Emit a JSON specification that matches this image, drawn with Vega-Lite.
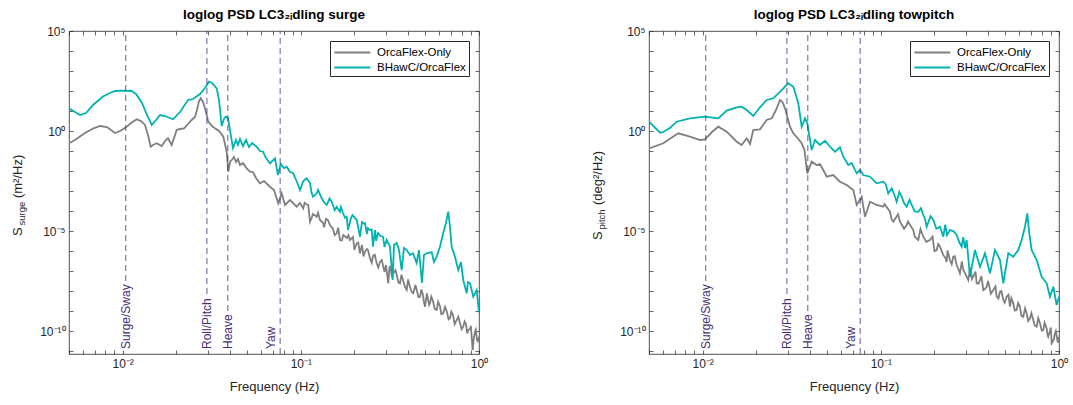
{
  "$schema": "https://vega.github.io/schema/vega-lite/v6.json",
  "background": "white",
  "padding": {"left": 11, "top": 7, "right": 5, "bottom": 5},
  "spacing": 102,
  "resolve": {"scale": {"color": "independent"}, "legend": {"color": "independent"}},
  "datasets": {
    "modes": [
      {"mode": "Surge/Sway", "f": 0.0104, "yEnd": 3.2e-8},
      {"mode": "Roll/Pitch", "f": 0.0297, "yEnd": 7.1e-9},
      {"mode": "Heave", "f": 0.0389, "yEnd": 1e-9},
      {"mode": "Yaw", "f": 0.0766, "yEnd": 7.1e-12}
    ],
    "surge": [
      {"f":0.005,"S":0.243,"s":"OrcaFlex-Only"},{"f":0.0054,"S":0.355,"s":"OrcaFlex-Only"},{"f":0.00615,"S":0.794,"s":"OrcaFlex-Only"},{"f":0.00682,"S":1.33,"s":"OrcaFlex-Only"},{"f":0.00746,"S":1.78,"s":"OrcaFlex-Only"},{"f":0.00817,"S":1.58,"s":"OrcaFlex-Only"},{"f":0.00906,"S":0.794,"s":"OrcaFlex-Only"},{"f":0.009665,"S":1.0,"s":"OrcaFlex-Only"},{"f":0.01044,"S":1.53,"s":"OrcaFlex-Only"},{"f":0.01114,"S":2.51,"s":"OrcaFlex-Only"},{"f":0.01199,"S":3.85,"s":"OrcaFlex-Only"},{"f":0.01268,"S":3.16,"s":"OrcaFlex-Only"},{"f":0.01335,"S":2.0,"s":"OrcaFlex-Only"},{"f":0.01388,"S":0.631,"s":"OrcaFlex-Only"},{"f":0.01437,"S":0.164,"s":"OrcaFlex-Only"},{"f":0.01481,"S":0.2,"s":"OrcaFlex-Only"},{"f":0.01553,"S":0.243,"s":"OrcaFlex-Only"},{"f":0.01657,"S":0.178,"s":"OrcaFlex-Only"},{"f":0.01729,"S":0.316,"s":"OrcaFlex-Only"},{"f":0.01797,"S":0.432,"s":"OrcaFlex-Only"},{"f":0.01885,"S":0.2,"s":"OrcaFlex-Only"},{"f":0.01942,"S":0.447,"s":"OrcaFlex-Only"},{"f":0.02011,"S":1.12,"s":"OrcaFlex-Only"},{"f":0.02099,"S":1.26,"s":"OrcaFlex-Only"},{"f":0.0221,"S":1.36,"s":"OrcaFlex-Only"},{"f":0.02327,"S":2.24,"s":"OrcaFlex-Only"},{"f":0.02441,"S":3.55,"s":"OrcaFlex-Only"},{"f":0.02547,"S":5.01,"s":"OrcaFlex-Only"},{"f":0.02614,"S":11.2,"s":"OrcaFlex-Only"},{"f":0.02683,"S":31.6,"s":"OrcaFlex-Only"},{"f":0.02743,"S":43.2,"s":"OrcaFlex-Only"},{"f":0.02825,"S":28.2,"s":"OrcaFlex-Only"},{"f":0.02899,"S":13.6,"s":"OrcaFlex-Only"},{"f":0.03024,"S":2.92,"s":"OrcaFlex-Only"},{"f":0.03173,"S":1.78,"s":"OrcaFlex-Only"},{"f":0.03298,"S":1.36,"s":"OrcaFlex-Only"},{"f":0.03474,"S":1.0,"s":"OrcaFlex-Only"},{"f":0.03673,"S":0.519,"s":"OrcaFlex-Only"},{"f":0.03837,"S":0.0923,"s":"OrcaFlex-Only"},{"f":0.03916,"S":0.00923,"s":"OrcaFlex-Only"},{"f":0.04004,"S":0.0282,"s":"OrcaFlex-Only"},{"f":0.04093,"S":0.0355,"s":"OrcaFlex-Only"},{"f":0.04216,"S":0.0501,"s":"OrcaFlex-Only"},{"f":0.04327,"S":0.0282,"s":"OrcaFlex-Only"},{"f":0.0444,"S":0.0398,"s":"OrcaFlex-Only"},{"f":0.04556,"S":0.02,"s":"OrcaFlex-Only"},{"f":0.04736,"S":0.0251,"s":"OrcaFlex-Only"},{"f":0.04968,"S":0.0136,"s":"OrcaFlex-Only"},{"f":0.05184,"S":0.00923,"s":"OrcaFlex-Only"},{"f":0.0539,"S":0.00891,"s":"OrcaFlex-Only"},{"f":0.05603,"S":0.00447,"s":"OrcaFlex-Only"},{"f":0.05898,"S":0.00243,"s":"OrcaFlex-Only"},{"f":0.06213,"S":0.00316,"s":"OrcaFlex-Only"},{"f":0.06714,"S":0.00164,"s":"OrcaFlex-Only"},{"f":0.0707,"S":0.00112,"s":"OrcaFlex-Only"},{"f":0.07471,"S":0.000243,"s":"OrcaFlex-Only"},{"f":0.07808,"S":0.000767,"s":"OrcaFlex-Only"},{"f":0.08149,"S":0.0002,"s":"OrcaFlex-Only"},{"f":0.08694,"S":0.000355,"s":"OrcaFlex-Only"},{"f":0.0948,"S":0.000164,"s":"OrcaFlex-Only"},{"f":0.09892,"S":0.000251,"s":"OrcaFlex-Only"},{"f":0.1032,"S":0.000136,"s":"OrcaFlex-Only"},{"f":0.1069,"S":0.000224,"s":"OrcaFlex-Only"},{"f":0.1101,"S":0.0002,"s":"OrcaFlex-Only"},{"f":0.1126,"S":2.92e-5,"s":"OrcaFlex-Only"},{"f":0.117,"S":7.08e-5,"s":"OrcaFlex-Only"},{"f":0.1227,"S":5.19e-5,"s":"OrcaFlex-Only"},{"f":0.1281,"S":3.55e-5,"s":"OrcaFlex-Only"},{"f":0.1337,"S":2.43e-5,"s":"OrcaFlex-Only"},{"f":0.1384,"S":3.98e-5,"s":"OrcaFlex-Only"},{"f":0.1458,"S":2.0e-5,"s":"OrcaFlex-Only"},{"f":0.1515,"S":1.26e-5,"s":"OrcaFlex-Only"},{"f":0.1589,"S":7.67e-6,"s":"OrcaFlex-Only"},{"f":0.1659,"S":3.55e-6,"s":"OrcaFlex-Only"},{"f":0.1731,"S":6.31e-6,"s":"OrcaFlex-Only"},{"f":0.1816,"S":4.47e-6,"s":"OrcaFlex-Only"},{"f":0.1887,"S":3.55e-6,"s":"OrcaFlex-Only"},{"f":0.1962,"S":5.01e-6,"s":"OrcaFlex-Only"},{"f":0.2058,"S":2.43e-6,"s":"OrcaFlex-Only"},{"f":0.2148,"S":7.67e-7,"s":"OrcaFlex-Only"},{"f":0.2204,"S":2.0e-6,"s":"OrcaFlex-Only"},{"f":0.2291,"S":9.23e-7,"s":"OrcaFlex-Only"},{"f":0.2382,"S":1.12e-6,"s":"OrcaFlex-Only"},{"f":0.2444,"S":4.32e-7,"s":"OrcaFlex-Only"},{"f":0.2541,"S":5.62e-7,"s":"OrcaFlex-Only"},{"f":0.2665,"S":2.43e-7,"s":"OrcaFlex-Only"},{"f":0.2781,"S":2.82e-7,"s":"OrcaFlex-Only"},{"f":0.2902,"S":1.64e-7,"s":"OrcaFlex-Only"},{"f":0.3005,"S":2.0e-7,"s":"OrcaFlex-Only"},{"f":0.3096,"S":2.43e-8,"s":"OrcaFlex-Only"},{"f":0.3206,"S":1.12e-7,"s":"OrcaFlex-Only"},{"f":0.3303,"S":7.67e-8,"s":"OrcaFlex-Only"},{"f":0.3464,"S":5.62e-8,"s":"OrcaFlex-Only"},{"f":0.3602,"S":2.43e-8,"s":"OrcaFlex-Only"},{"f":0.3744,"S":3.55e-8,"s":"OrcaFlex-Only"},{"f":0.3928,"S":1.12e-8,"s":"OrcaFlex-Only"},{"f":0.4098,"S":1.58e-8,"s":"OrcaFlex-Only"},{"f":0.4277,"S":7.67e-9,"s":"OrcaFlex-Only"},{"f":0.4487,"S":1.0e-8,"s":"OrcaFlex-Only"},{"f":0.4664,"S":5.19e-9,"s":"OrcaFlex-Only"},{"f":0.4848,"S":6.31e-9,"s":"OrcaFlex-Only"},{"f":0.4976,"S":1.64e-9,"s":"OrcaFlex-Only"},{"f":0.5171,"S":3.98e-9,"s":"OrcaFlex-Only"},{"f":0.5306,"S":2.43e-9,"s":"OrcaFlex-Only"},{"f":0.5516,"S":3.16e-9,"s":"OrcaFlex-Only"},{"f":0.5785,"S":1.12e-9,"s":"OrcaFlex-Only"},{"f":0.6037,"S":1.78e-9,"s":"OrcaFlex-Only"},{"f":0.6301,"S":7.67e-10,"s":"OrcaFlex-Only"},{"f":0.6609,"S":8.91e-10,"s":"OrcaFlex-Only"},{"f":0.6872,"S":4.32e-10,"s":"OrcaFlex-Only"},{"f":0.7144,"S":6.31e-10,"s":"OrcaFlex-Only"},{"f":0.7492,"S":3.55e-10,"s":"OrcaFlex-Only"},{"f":0.782,"S":2.51e-10,"s":"OrcaFlex-Only"},{"f":0.816,"S":1.64e-10,"s":"OrcaFlex-Only"},{"f":0.8449,"S":2.24e-10,"s":"OrcaFlex-Only"},{"f":0.8704,"S":1.12e-10,"s":"OrcaFlex-Only"},{"f":0.8899,"S":1.26e-10,"s":"OrcaFlex-Only"},{"f":0.9213,"S":1.12e-11,"s":"OrcaFlex-Only"},{"f":0.949,"S":9.23e-11,"s":"OrcaFlex-Only"},{"f":0.9739,"S":3.55e-11,"s":"OrcaFlex-Only"},{"f":1.0,"S":5.19e-11,"s":"OrcaFlex-Only"},
      {"f":0.105,"S":2.57e-4,"s":"OrcaFlex-Only"},{"f":0.115,"S":4.47e-5,"s":"OrcaFlex-Only"},{"f":0.125,"S":8.1e-5,"s":"OrcaFlex-Only"},{"f":0.135,"S":1.55e-5,"s":"OrcaFlex-Only"},{"f":0.142,"S":3.47e-5,"s":"OrcaFlex-Only"},{"f":0.155,"S":6.2e-6,"s":"OrcaFlex-Only"},{"f":0.162,"S":1.48e-5,"s":"OrcaFlex-Only"},{"f":0.17,"S":3.4e-6,"s":"OrcaFlex-Only"},{"f":0.185,"S":6.2e-6,"s":"OrcaFlex-Only"},{"f":0.2,"S":1.15e-6,"s":"OrcaFlex-Only"},{"f":0.21,"S":2.63e-6,"s":"OrcaFlex-Only"},{"f":0.225,"S":5.4e-7,"s":"OrcaFlex-Only"},{"f":0.235,"S":1.26e-6,"s":"OrcaFlex-Only"},{"f":0.25,"S":2.6e-7,"s":"OrcaFlex-Only"},{"f":0.26,"S":6.5e-7,"s":"OrcaFlex-Only"},{"f":0.272,"S":1.5e-7,"s":"OrcaFlex-Only"},{"f":0.285,"S":3.5e-7,"s":"OrcaFlex-Only"},{"f":0.295,"S":8.9e-8,"s":"OrcaFlex-Only"},{"f":0.315,"S":1.8e-7,"s":"OrcaFlex-Only"},{"f":0.325,"S":4.7e-8,"s":"OrcaFlex-Only"},{"f":0.34,"S":1.1e-7,"s":"OrcaFlex-Only"},{"f":0.353,"S":2.7e-8,"s":"OrcaFlex-Only"},{"f":0.367,"S":6.6e-8,"s":"OrcaFlex-Only"},{"f":0.385,"S":1.55e-8,"s":"OrcaFlex-Only"},{"f":0.4,"S":3.8e-8,"s":"OrcaFlex-Only"},{"f":0.42,"S":8.7e-9,"s":"OrcaFlex-Only"},{"f":0.44,"S":2.0e-8,"s":"OrcaFlex-Only"},{"f":0.457,"S":4.9e-9,"s":"OrcaFlex-Only"},{"f":0.475,"S":1.2e-8,"s":"OrcaFlex-Only"},{"f":0.49,"S":3.1e-9,"s":"OrcaFlex-Only"},{"f":0.51,"S":7.6e-9,"s":"OrcaFlex-Only"},{"f":0.525,"S":2.0e-9,"s":"OrcaFlex-Only"},{"f":0.54,"S":5.2e-9,"s":"OrcaFlex-Only"},{"f":0.565,"S":1.23e-9,"s":"OrcaFlex-Only"},{"f":0.59,"S":2.9e-9,"s":"OrcaFlex-Only"},{"f":0.615,"S":6.9e-10,"s":"OrcaFlex-Only"},{"f":0.645,"S":1.6e-9,"s":"OrcaFlex-Only"},{"f":0.675,"S":3.8e-10,"s":"OrcaFlex-Only"},{"f":0.7,"S":9.3e-10,"s":"OrcaFlex-Only"},{"f":0.73,"S":2.2e-10,"s":"OrcaFlex-Only"},{"f":0.765,"S":5.2e-10,"s":"OrcaFlex-Only"},{"f":0.8,"S":1.23e-10,"s":"OrcaFlex-Only"},{"f":0.83,"S":3.0e-10,"s":"OrcaFlex-Only"},{"f":0.86,"S":7.6e-11,"s":"OrcaFlex-Only"},{"f":0.9,"S":1.8e-10,"s":"OrcaFlex-Only"},{"f":0.935,"S":4.4e-11,"s":"OrcaFlex-Only"},{"f":0.96,"S":1.17e-10,"s":"OrcaFlex-Only"},{"f":0.985,"S":3.1e-11,"s":"OrcaFlex-Only"},
      {"f":0.005,"S":13.6,"s":"BHawC/OrcaFlex"},{"f":0.0054,"S":8.91,"s":"BHawC/OrcaFlex"},{"f":0.00577,"S":6.31,"s":"BHawC/OrcaFlex"},{"f":0.00623,"S":7.94,"s":"BHawC/OrcaFlex"},{"f":0.00682,"S":20.0,"s":"BHawC/OrcaFlex"},{"f":0.00776,"S":53.1,"s":"BHawC/OrcaFlex"},{"f":0.00849,"S":79.4,"s":"BHawC/OrcaFlex"},{"f":0.00906,"S":100,"s":"BHawC/OrcaFlex"},{"f":0.00992,"S":103.5,"s":"BHawC/OrcaFlex"},{"f":0.01124,"S":100,"s":"BHawC/OrcaFlex"},{"f":0.01189,"S":70.8,"s":"BHawC/OrcaFlex"},{"f":0.01284,"S":25.1,"s":"BHawC/OrcaFlex"},{"f":0.0137,"S":6.31,"s":"BHawC/OrcaFlex"},{"f":0.01456,"S":2.0,"s":"BHawC/OrcaFlex"},{"f":0.01539,"S":3.55,"s":"BHawC/OrcaFlex"},{"f":0.01621,"S":6.31,"s":"BHawC/OrcaFlex"},{"f":0.01729,"S":5.62,"s":"BHawC/OrcaFlex"},{"f":0.01917,"S":3.85,"s":"BHawC/OrcaFlex"},{"f":0.02099,"S":8.91,"s":"BHawC/OrcaFlex"},{"f":0.02327,"S":35.5,"s":"BHawC/OrcaFlex"},{"f":0.02483,"S":39.8,"s":"BHawC/OrcaFlex"},{"f":0.02718,"S":70.8,"s":"BHawC/OrcaFlex"},{"f":0.02899,"S":141,"s":"BHawC/OrcaFlex"},{"f":0.03052,"S":292,"s":"BHawC/OrcaFlex"},{"f":0.03173,"S":251,"s":"BHawC/OrcaFlex"},{"f":0.03372,"S":136,"s":"BHawC/OrcaFlex"},{"f":0.03474,"S":35.5,"s":"BHawC/OrcaFlex"},{"f":0.03597,"S":1.78,"s":"BHawC/OrcaFlex"},{"f":0.03706,"S":3.98,"s":"BHawC/OrcaFlex"},{"f":0.03788,"S":5.19,"s":"BHawC/OrcaFlex"},{"f":0.03902,"S":4.47,"s":"BHawC/OrcaFlex"},{"f":0.04004,"S":1.12,"s":"BHawC/OrcaFlex"},{"f":0.04162,"S":0.141,"s":"BHawC/OrcaFlex"},{"f":0.04327,"S":0.355,"s":"BHawC/OrcaFlex"},{"f":0.0444,"S":0.2,"s":"BHawC/OrcaFlex"},{"f":0.04556,"S":0.398,"s":"BHawC/OrcaFlex"},{"f":0.04736,"S":0.178,"s":"BHawC/OrcaFlex"},{"f":0.04924,"S":0.355,"s":"BHawC/OrcaFlex"},{"f":0.05118,"S":0.158,"s":"BHawC/OrcaFlex"},{"f":0.0532,"S":0.251,"s":"BHawC/OrcaFlex"},{"f":0.05652,"S":0.164,"s":"BHawC/OrcaFlex"},{"f":0.05898,"S":0.1,"s":"BHawC/OrcaFlex"},{"f":0.06132,"S":0.0923,"s":"BHawC/OrcaFlex"},{"f":0.06374,"S":0.0447,"s":"BHawC/OrcaFlex"},{"f":0.06714,"S":0.0243,"s":"BHawC/OrcaFlex"},{"f":0.07161,"S":0.0432,"s":"BHawC/OrcaFlex"},{"f":0.07442,"S":0.00631,"s":"BHawC/OrcaFlex"},{"f":0.07709,"S":0.0224,"s":"BHawC/OrcaFlex"},{"f":0.08044,"S":0.0141,"s":"BHawC/OrcaFlex"},{"f":0.08331,"S":0.0164,"s":"BHawC/OrcaFlex"},{"f":0.08694,"S":0.00891,"s":"BHawC/OrcaFlex"},{"f":0.09036,"S":0.00794,"s":"BHawC/OrcaFlex"},{"f":0.09517,"S":0.00282,"s":"BHawC/OrcaFlex"},{"f":0.09892,"S":0.00112,"s":"BHawC/OrcaFlex"},{"f":0.1028,"S":0.00292,"s":"BHawC/OrcaFlex"},{"f":0.1079,"S":0.00432,"s":"BHawC/OrcaFlex"},{"f":0.1126,"S":0.00251,"s":"BHawC/OrcaFlex"},{"f":0.117,"S":0.000519,"s":"BHawC/OrcaFlex"},{"f":0.1227,"S":0.000767,"s":"BHawC/OrcaFlex"},{"f":0.1309,"S":0.000432,"s":"BHawC/OrcaFlex"},{"f":0.1397,"S":0.0002,"s":"BHawC/OrcaFlex"},{"f":0.149,"S":0.000292,"s":"BHawC/OrcaFlex"},{"f":0.1589,"S":0.000164,"s":"BHawC/OrcaFlex"},{"f":0.1659,"S":9.23e-5,"s":"BHawC/OrcaFlex"},{"f":0.1724,"S":7.94e-5,"s":"BHawC/OrcaFlex"},{"f":0.1809,"S":5.19e-5,"s":"BHawC/OrcaFlex"},{"f":0.184,"S":1.12e-5,"s":"BHawC/OrcaFlex"},{"f":0.1912,"S":4.47e-5,"s":"BHawC/OrcaFlex"},{"f":0.2058,"S":3.55e-5,"s":"BHawC/OrcaFlex"},{"f":0.2148,"S":5.19e-6,"s":"BHawC/OrcaFlex"},{"f":0.2204,"S":2.82e-5,"s":"BHawC/OrcaFlex"},{"f":0.2291,"S":2.51e-5,"s":"BHawC/OrcaFlex"},{"f":0.2382,"S":1.41e-5,"s":"BHawC/OrcaFlex"},{"f":0.2444,"S":1.12e-5,"s":"BHawC/OrcaFlex"},{"f":0.2541,"S":1.64e-6,"s":"BHawC/OrcaFlex"},{"f":0.2608,"S":1.12e-5,"s":"BHawC/OrcaFlex"},{"f":0.271,"S":7.94e-6,"s":"BHawC/OrcaFlex"},{"f":0.2891,"S":5.19e-6,"s":"BHawC/OrcaFlex"},{"f":0.3032,"S":3.55e-6,"s":"BHawC/OrcaFlex"},{"f":0.3165,"S":1.64e-6,"s":"BHawC/OrcaFlex"},{"f":0.3277,"S":3.55e-8,"s":"BHawC/OrcaFlex"},{"f":0.3333,"S":2.0e-6,"s":"BHawC/OrcaFlex"},{"f":0.3451,"S":2.51e-6,"s":"BHawC/OrcaFlex"},{"f":0.3556,"S":1.12e-6,"s":"BHawC/OrcaFlex"},{"f":0.3681,"S":1.12e-7,"s":"BHawC/OrcaFlex"},{"f":0.3793,"S":1.41e-6,"s":"BHawC/OrcaFlex"},{"f":0.3928,"S":1.12e-6,"s":"BHawC/OrcaFlex"},{"f":0.4098,"S":6.31e-7,"s":"BHawC/OrcaFlex"},{"f":0.426,"S":7.67e-7,"s":"BHawC/OrcaFlex"},{"f":0.4469,"S":2.51e-7,"s":"BHawC/OrcaFlex"},{"f":0.4604,"S":1.12e-6,"s":"BHawC/OrcaFlex"},{"f":0.4786,"S":2.51e-8,"s":"BHawC/OrcaFlex"},{"f":0.4912,"S":6.31e-7,"s":"BHawC/OrcaFlex"},{"f":0.5085,"S":7.67e-7,"s":"BHawC/OrcaFlex"},{"f":0.5423,"S":8.91e-7,"s":"BHawC/OrcaFlex"},{"f":0.5588,"S":2.82e-7,"s":"BHawC/OrcaFlex"},{"f":0.5785,"S":5.19e-7,"s":"BHawC/OrcaFlex"},{"f":0.6037,"S":1.64e-6,"s":"BHawC/OrcaFlex"},{"f":0.6301,"S":7.94e-6,"s":"BHawC/OrcaFlex"},{"f":0.6525,"S":2.51e-5,"s":"BHawC/OrcaFlex"},{"f":0.6722,"S":9.23e-5,"s":"BHawC/OrcaFlex"},{"f":0.6872,"S":1.64e-5,"s":"BHawC/OrcaFlex"},{"f":0.7024,"S":1.64e-6,"s":"BHawC/OrcaFlex"},{"f":0.733,"S":5.19e-7,"s":"BHawC/OrcaFlex"},{"f":0.7648,"S":1.12e-7,"s":"BHawC/OrcaFlex"},{"f":0.7921,"S":2.82e-7,"s":"BHawC/OrcaFlex"},{"f":0.816,"S":3.55e-8,"s":"BHawC/OrcaFlex"},{"f":0.8527,"S":7.67e-9,"s":"BHawC/OrcaFlex"},{"f":0.8672,"S":2.82e-8,"s":"BHawC/OrcaFlex"},{"f":0.8899,"S":2.51e-8,"s":"BHawC/OrcaFlex"},{"f":0.9285,"S":5.19e-9,"s":"BHawC/OrcaFlex"},{"f":0.9703,"S":1.12e-8,"s":"BHawC/OrcaFlex"},{"f":1.0,"S":8.61e-10,"s":"BHawC/OrcaFlex"},
      {"f":0.105,"S":3.6e-3,"s":"BHawC/OrcaFlex"},{"f":0.115,"S":7.9e-4,"s":"BHawC/OrcaFlex"},{"f":0.125,"S":1.15e-3,"s":"BHawC/OrcaFlex"},{"f":0.135,"S":2.75e-4,"s":"BHawC/OrcaFlex"},{"f":0.145,"S":4.3e-4,"s":"BHawC/OrcaFlex"},{"f":0.155,"S":1.1e-4,"s":"BHawC/OrcaFlex"},{"f":0.168,"S":1.6e-4,"s":"BHawC/OrcaFlex"},{"f":0.177,"S":4.6e-5,"s":"BHawC/OrcaFlex"},{"f":0.195,"S":6.2e-5,"s":"BHawC/OrcaFlex"},{"f":0.21,"S":1.5e-5,"s":"BHawC/OrcaFlex"},{"f":0.225,"S":2.4e-5,"s":"BHawC/OrcaFlex"},{"f":0.235,"S":7.1e-6,"s":"BHawC/OrcaFlex"},{"f":0.25,"S":1.17e-5,"s":"BHawC/OrcaFlex"},{"f":0.265,"S":3.2e-6,"s":"BHawC/OrcaFlex"},{"f":0.28,"S":5.6e-6,"s":"BHawC/OrcaFlex"},{"f":0.295,"S":1.6e-6,"s":"BHawC/OrcaFlex"}
    ],
    "pitch": [
      {"f":0.005,"S":0.136,"s":"OrcaFlex-Only"},{"f":0.006015,"S":0.243,"s":"OrcaFlex-Only"},{"f":0.0073,"S":0.767,"s":"OrcaFlex-Only"},{"f":0.00849,"S":0.519,"s":"OrcaFlex-Only"},{"f":0.009665,"S":0.355,"s":"OrcaFlex-Only"},{"f":0.01031,"S":0.385,"s":"OrcaFlex-Only"},{"f":0.01128,"S":0.891,"s":"OrcaFlex-Only"},{"f":0.01224,"S":1.64,"s":"OrcaFlex-Only"},{"f":0.01365,"S":0.923,"s":"OrcaFlex-Only"},{"f":0.01553,"S":0.292,"s":"OrcaFlex-Only"},{"f":0.01657,"S":0.2,"s":"OrcaFlex-Only"},{"f":0.01767,"S":0.432,"s":"OrcaFlex-Only"},{"f":0.01845,"S":0.224,"s":"OrcaFlex-Only"},{"f":0.01924,"S":1.12,"s":"OrcaFlex-Only"},{"f":0.02099,"S":1.22,"s":"OrcaFlex-Only"},{"f":0.02288,"S":3.55,"s":"OrcaFlex-Only"},{"f":0.02441,"S":4.32,"s":"OrcaFlex-Only"},{"f":0.0258,"S":11.2,"s":"OrcaFlex-Only"},{"f":0.02718,"S":35.5,"s":"OrcaFlex-Only"},{"f":0.02807,"S":28.2,"s":"OrcaFlex-Only"},{"f":0.02899,"S":13.6,"s":"OrcaFlex-Only"},{"f":0.03092,"S":1.64,"s":"OrcaFlex-Only"},{"f":0.03227,"S":0.767,"s":"OrcaFlex-Only"},{"f":0.03406,"S":0.447,"s":"OrcaFlex-Only"},{"f":0.03597,"S":0.243,"s":"OrcaFlex-Only"},{"f":0.03729,"S":0.112,"s":"OrcaFlex-Only"},{"f":0.03866,"S":0.00767,"s":"OrcaFlex-Only"},{"f":0.04093,"S":0.0292,"s":"OrcaFlex-Only"},{"f":0.04366,"S":0.02,"s":"OrcaFlex-Only"},{"f":0.04556,"S":0.0224,"s":"OrcaFlex-Only"},{"f":0.04754,"S":0.0112,"s":"OrcaFlex-Only"},{"f":0.04968,"S":0.00519,"s":"OrcaFlex-Only"},{"f":0.0541,"S":0.00631,"s":"OrcaFlex-Only"},{"f":0.05898,"S":0.00292,"s":"OrcaFlex-Only"},{"f":0.06431,"S":0.002,"s":"OrcaFlex-Only"},{"f":0.07005,"S":0.00112,"s":"OrcaFlex-Only"},{"f":0.0732,"S":0.0002,"s":"OrcaFlex-Only"},{"f":0.07808,"S":0.000519,"s":"OrcaFlex-Only"},{"f":0.08149,"S":5.19e-5,"s":"OrcaFlex-Only"},{"f":0.08694,"S":0.000292,"s":"OrcaFlex-Only"},{"f":0.0948,"S":0.0002,"s":"OrcaFlex-Only"},{"f":0.1032,"S":0.000164,"s":"OrcaFlex-Only"},{"f":0.1126,"S":9.23e-5,"s":"OrcaFlex-Only"},{"f":0.1175,"S":2.92e-5,"s":"OrcaFlex-Only"},{"f":0.1281,"S":2.92e-5,"s":"OrcaFlex-Only"},{"f":0.1397,"S":2.0e-5,"s":"OrcaFlex-Only"},{"f":0.1521,"S":1.12e-5,"s":"OrcaFlex-Only"},{"f":0.1623,"S":3.55e-6,"s":"OrcaFlex-Only"},{"f":0.1731,"S":5.19e-6,"s":"OrcaFlex-Only"},{"f":0.1887,"S":3.55e-6,"s":"OrcaFlex-Only"},{"f":0.2058,"S":1.12e-6,"s":"OrcaFlex-Only"},{"f":0.2148,"S":1.64e-6,"s":"OrcaFlex-Only"},{"f":0.2241,"S":6.31e-7,"s":"OrcaFlex-Only"},{"f":0.2341,"S":2.82e-7,"s":"OrcaFlex-Only"},{"f":0.2444,"S":3.55e-7,"s":"OrcaFlex-Only"},{"f":0.255,"S":5.19e-7,"s":"OrcaFlex-Only"},{"f":0.2665,"S":2.0e-7,"s":"OrcaFlex-Only"},{"f":0.278,"S":7.67e-8,"s":"OrcaFlex-Only"},{"f":0.2902,"S":1.12e-7,"s":"OrcaFlex-Only"},{"f":0.3096,"S":3.55e-8,"s":"OrcaFlex-Only"},{"f":0.3303,"S":5.19e-8,"s":"OrcaFlex-Only"},{"f":0.345,"S":2.43e-8,"s":"OrcaFlex-Only"},{"f":0.3602,"S":3.55e-8,"s":"OrcaFlex-Only"},{"f":0.376,"S":1.12e-8,"s":"OrcaFlex-Only"},{"f":0.3928,"S":1.64e-8,"s":"OrcaFlex-Only"},{"f":0.4277,"S":1.12e-8,"s":"OrcaFlex-Only"},{"f":0.447,"S":5.19e-9,"s":"OrcaFlex-Only"},{"f":0.4664,"S":9.23e-9,"s":"OrcaFlex-Only"},{"f":0.487,"S":3.55e-9,"s":"OrcaFlex-Only"},{"f":0.5085,"S":5.19e-9,"s":"OrcaFlex-Only"},{"f":0.531,"S":1.64e-9,"s":"OrcaFlex-Only"},{"f":0.5537,"S":2.43e-9,"s":"OrcaFlex-Only"},{"f":0.578,"S":1.12e-9,"s":"OrcaFlex-Only"},{"f":0.6037,"S":1.64e-9,"s":"OrcaFlex-Only"},{"f":0.63,"S":5.19e-10,"s":"OrcaFlex-Only"},{"f":0.6584,"S":7.67e-10,"s":"OrcaFlex-Only"},{"f":0.687,"S":4.32e-10,"s":"OrcaFlex-Only"},{"f":0.7172,"S":3.55e-10,"s":"OrcaFlex-Only"},{"f":0.749,"S":1.64e-10,"s":"OrcaFlex-Only"},{"f":0.782,"S":2.43e-10,"s":"OrcaFlex-Only"},{"f":0.816,"S":1.12e-10,"s":"OrcaFlex-Only"},{"f":0.8527,"S":1.36e-10,"s":"OrcaFlex-Only"},{"f":0.87,"S":5.19e-11,"s":"OrcaFlex-Only"},{"f":0.8899,"S":1.0e-10,"s":"OrcaFlex-Only"},{"f":0.9095,"S":2.43e-11,"s":"OrcaFlex-Only"},{"f":0.949,"S":7.67e-11,"s":"OrcaFlex-Only"},{"f":1.0,"S":5.19e-11,"s":"OrcaFlex-Only"},
      {"f":0.105,"S":2.2e-4,"s":"OrcaFlex-Only"},{"f":0.115,"S":3.8e-5,"s":"OrcaFlex-Only"},{"f":0.125,"S":6.9e-5,"s":"OrcaFlex-Only"},{"f":0.135,"S":1.3e-5,"s":"OrcaFlex-Only"},{"f":0.142,"S":2.95e-5,"s":"OrcaFlex-Only"},{"f":0.155,"S":5.3e-6,"s":"OrcaFlex-Only"},{"f":0.167,"S":1.26e-5,"s":"OrcaFlex-Only"},{"f":0.18,"S":2.9e-6,"s":"OrcaFlex-Only"},{"f":0.195,"S":5.3e-6,"s":"OrcaFlex-Only"},{"f":0.2,"S":9.8e-7,"s":"OrcaFlex-Only"},{"f":0.21,"S":2.2e-6,"s":"OrcaFlex-Only"},{"f":0.23,"S":4.6e-7,"s":"OrcaFlex-Only"},{"f":0.237,"S":1.07e-6,"s":"OrcaFlex-Only"},{"f":0.25,"S":2.2e-7,"s":"OrcaFlex-Only"},{"f":0.26,"S":5.5e-7,"s":"OrcaFlex-Only"},{"f":0.272,"S":1.3e-7,"s":"OrcaFlex-Only"},{"f":0.285,"S":3.0e-7,"s":"OrcaFlex-Only"},{"f":0.297,"S":7.6e-8,"s":"OrcaFlex-Only"},{"f":0.318,"S":1.5e-7,"s":"OrcaFlex-Only"},{"f":0.325,"S":4.0e-8,"s":"OrcaFlex-Only"},{"f":0.34,"S":9.4e-8,"s":"OrcaFlex-Only"},{"f":0.353,"S":2.3e-8,"s":"OrcaFlex-Only"},{"f":0.367,"S":5.6e-8,"s":"OrcaFlex-Only"},{"f":0.385,"S":1.3e-8,"s":"OrcaFlex-Only"},{"f":0.4,"S":3.2e-8,"s":"OrcaFlex-Only"},{"f":0.415,"S":7.4e-9,"s":"OrcaFlex-Only"},{"f":0.44,"S":1.7e-8,"s":"OrcaFlex-Only"},{"f":0.457,"S":4.2e-9,"s":"OrcaFlex-Only"},{"f":0.475,"S":1.0e-8,"s":"OrcaFlex-Only"},{"f":0.495,"S":2.6e-9,"s":"OrcaFlex-Only"},{"f":0.52,"S":6.5e-9,"s":"OrcaFlex-Only"},{"f":0.54,"S":4.4e-9,"s":"OrcaFlex-Only"},{"f":0.565,"S":1.05e-9,"s":"OrcaFlex-Only"},{"f":0.59,"S":2.5e-9,"s":"OrcaFlex-Only"},{"f":0.615,"S":5.9e-10,"s":"OrcaFlex-Only"},{"f":0.645,"S":1.36e-9,"s":"OrcaFlex-Only"},{"f":0.672,"S":3.2e-10,"s":"OrcaFlex-Only"},{"f":0.7,"S":7.9e-10,"s":"OrcaFlex-Only"},{"f":0.73,"S":1.9e-10,"s":"OrcaFlex-Only"},{"f":0.765,"S":4.4e-10,"s":"OrcaFlex-Only"},{"f":0.8,"S":1.05e-10,"s":"OrcaFlex-Only"},{"f":0.83,"S":2.6e-10,"s":"OrcaFlex-Only"},{"f":0.862,"S":6.5e-11,"s":"OrcaFlex-Only"},{"f":0.9,"S":1.5e-10,"s":"OrcaFlex-Only"},{"f":0.935,"S":3.7e-11,"s":"OrcaFlex-Only"},{"f":0.96,"S":1.0e-10,"s":"OrcaFlex-Only"},{"f":0.985,"S":2.6e-11,"s":"OrcaFlex-Only"},
      {"f":0.005,"S":2.92,"s":"BHawC/OrcaFlex"},{"f":0.00577,"S":0.822,"s":"BHawC/OrcaFlex"},{"f":0.006015,"S":0.891,"s":"BHawC/OrcaFlex"},{"f":0.006558,"S":1.41,"s":"BHawC/OrcaFlex"},{"f":0.007152,"S":2.92,"s":"BHawC/OrcaFlex"},{"f":0.00849,"S":4.32,"s":"BHawC/OrcaFlex"},{"f":0.01031,"S":5.19,"s":"BHawC/OrcaFlex"},{"f":0.01224,"S":4.32,"s":"BHawC/OrcaFlex"},{"f":0.01365,"S":10.4,"s":"BHawC/OrcaFlex"},{"f":0.01553,"S":15.3,"s":"BHawC/OrcaFlex"},{"f":0.01657,"S":16.4,"s":"BHawC/OrcaFlex"},{"f":0.01767,"S":11.2,"s":"BHawC/OrcaFlex"},{"f":0.01924,"S":5.62,"s":"BHawC/OrcaFlex"},{"f":0.02099,"S":15.3,"s":"BHawC/OrcaFlex"},{"f":0.02288,"S":35.5,"s":"BHawC/OrcaFlex"},{"f":0.02492,"S":43.2,"s":"BHawC/OrcaFlex"},{"f":0.02778,"S":112,"s":"BHawC/OrcaFlex"},{"f":0.03024,"S":243,"s":"BHawC/OrcaFlex"},{"f":0.03227,"S":164,"s":"BHawC/OrcaFlex"},{"f":0.03442,"S":24.3,"s":"BHawC/OrcaFlex"},{"f":0.03597,"S":1.64,"s":"BHawC/OrcaFlex"},{"f":0.03753,"S":4.32,"s":"BHawC/OrcaFlex"},{"f":0.03866,"S":2.51,"s":"BHawC/OrcaFlex"},{"f":0.04093,"S":0.112,"s":"BHawC/OrcaFlex"},{"f":0.04271,"S":0.355,"s":"BHawC/OrcaFlex"},{"f":0.04556,"S":0.2,"s":"BHawC/OrcaFlex"},{"f":0.0486,"S":0.327,"s":"BHawC/OrcaFlex"},{"f":0.05184,"S":0.164,"s":"BHawC/OrcaFlex"},{"f":0.05531,"S":0.0923,"s":"BHawC/OrcaFlex"},{"f":0.05898,"S":0.153,"s":"BHawC/OrcaFlex"},{"f":0.06155,"S":0.0519,"s":"BHawC/OrcaFlex"},{"f":0.06567,"S":0.02,"s":"BHawC/OrcaFlex"},{"f":0.06862,"S":0.0251,"s":"BHawC/OrcaFlex"},{"f":0.0732,"S":0.00767,"s":"BHawC/OrcaFlex"},{"f":0.0764,"S":0.0112,"s":"BHawC/OrcaFlex"},{"f":0.07972,"S":0.00631,"s":"BHawC/OrcaFlex"},{"f":0.08694,"S":0.00519,"s":"BHawC/OrcaFlex"},{"f":0.0948,"S":0.00243,"s":"BHawC/OrcaFlex"},{"f":0.1032,"S":0.00292,"s":"BHawC/OrcaFlex"},{"f":0.1101,"S":0.000767,"s":"BHawC/OrcaFlex"},{"f":0.1151,"S":0.00136,"s":"BHawC/OrcaFlex"},{"f":0.1227,"S":0.000292,"s":"BHawC/OrcaFlex"},{"f":0.1309,"S":0.000519,"s":"BHawC/OrcaFlex"},{"f":0.1397,"S":0.000164,"s":"BHawC/OrcaFlex"},{"f":0.149,"S":0.0002,"s":"BHawC/OrcaFlex"},{"f":0.1623,"S":9.23e-5,"s":"BHawC/OrcaFlex"},{"f":0.1731,"S":6.31e-5,"s":"BHawC/OrcaFlex"},{"f":0.1809,"S":1.64e-5,"s":"BHawC/OrcaFlex"},{"f":0.197,"S":3.55e-5,"s":"BHawC/OrcaFlex"},{"f":0.2148,"S":1.64e-5,"s":"BHawC/OrcaFlex"},{"f":0.2241,"S":5.19e-6,"s":"BHawC/OrcaFlex"},{"f":0.2444,"S":1.12e-5,"s":"BHawC/OrcaFlex"},{"f":0.2665,"S":6.31e-6,"s":"BHawC/OrcaFlex"},{"f":0.2843,"S":1.64e-6,"s":"BHawC/OrcaFlex"},{"f":0.3032,"S":3.55e-6,"s":"BHawC/OrcaFlex"},{"f":0.3165,"S":5.19e-8,"s":"BHawC/OrcaFlex"},{"f":0.3376,"S":1.12e-6,"s":"BHawC/OrcaFlex"},{"f":0.3602,"S":1.64e-7,"s":"BHawC/OrcaFlex"},{"f":0.3842,"S":7.67e-7,"s":"BHawC/OrcaFlex"},{"f":0.4098,"S":7.67e-8,"s":"BHawC/OrcaFlex"},{"f":0.4371,"S":1.12e-6,"s":"BHawC/OrcaFlex"},{"f":0.4664,"S":3.55e-7,"s":"BHawC/OrcaFlex"},{"f":0.4867,"S":2.43e-8,"s":"BHawC/OrcaFlex"},{"f":0.5191,"S":7.67e-7,"s":"BHawC/OrcaFlex"},{"f":0.5537,"S":5.19e-7,"s":"BHawC/OrcaFlex"},{"f":0.5906,"S":1.12e-6,"s":"BHawC/OrcaFlex"},{"f":0.6172,"S":3.55e-6,"s":"BHawC/OrcaFlex"},{"f":0.6442,"S":1.64e-5,"s":"BHawC/OrcaFlex"},{"f":0.6636,"S":7.67e-5,"s":"BHawC/OrcaFlex"},{"f":0.6809,"S":7.67e-6,"s":"BHawC/OrcaFlex"},{"f":0.7024,"S":1.12e-6,"s":"BHawC/OrcaFlex"},{"f":0.7492,"S":3.55e-7,"s":"BHawC/OrcaFlex"},{"f":0.7992,"S":5.19e-8,"s":"BHawC/OrcaFlex"},{"f":0.8527,"S":2.43e-8,"s":"BHawC/OrcaFlex"},{"f":0.8899,"S":5.19e-9,"s":"BHawC/OrcaFlex"},{"f":0.9285,"S":1.64e-8,"s":"BHawC/OrcaFlex"},{"f":0.9703,"S":2.0e-9,"s":"BHawC/OrcaFlex"},{"f":1.0,"S":5.19e-9,"s":"BHawC/OrcaFlex"},
      {"f":0.1065,"S":2.2e-3,"s":"BHawC/OrcaFlex"},{"f":0.119,"S":6.5e-4,"s":"BHawC/OrcaFlex"},{"f":0.127,"S":9.0e-4,"s":"BHawC/OrcaFlex"},{"f":0.135,"S":2.5e-4,"s":"BHawC/OrcaFlex"},{"f":0.145,"S":3.6e-4,"s":"BHawC/OrcaFlex"},{"f":0.155,"S":9.5e-5,"s":"BHawC/OrcaFlex"},{"f":0.168,"S":1.4e-4,"s":"BHawC/OrcaFlex"},{"f":0.177,"S":4.0e-5,"s":"BHawC/OrcaFlex"},{"f":0.19,"S":5.5e-5,"s":"BHawC/OrcaFlex"},{"f":0.205,"S":1.3e-5,"s":"BHawC/OrcaFlex"},{"f":0.23,"S":2.1e-5,"s":"BHawC/OrcaFlex"},{"f":0.235,"S":6.2e-6,"s":"BHawC/OrcaFlex"},{"f":0.255,"S":1.0e-5,"s":"BHawC/OrcaFlex"},{"f":0.275,"S":2.9e-6,"s":"BHawC/OrcaFlex"},{"f":0.29,"S":5.0e-6,"s":"BHawC/OrcaFlex"},{"f":0.297,"S":1.4e-6,"s":"BHawC/OrcaFlex"}
    ]
  },
  "hconcat": [
    {
      "width": 410,
      "height": 323,
      "title": {"text": "loglog PSD LC3₂ᵢdling surge", "frame": "group", "anchor": "middle", "offset": 4, "fontSize": 13.5, "fontWeight": "bold", "font": "Liberation Sans", "color": "#000000"},
      "resolve": {"axis": {"x": "independent", "y": "independent"}},
      "layer": [
        {
          "data": {"name": "surge"},
          "transform": [{"filter": "datum.s === 'OrcaFlex-Only'"}],
          "mark": {"type": "line", "clip": true, "strokeWidth": 1.8},
          "encoding": {
            "x": {"field": "f", "type": "quantitative", "scale": {"type": "log", "domain": [0.005, 1], "nice": false},
              "axis": {"orient": "bottom", "values": [0.005,0.006,0.007,0.008,0.009,0.01,0.02,0.03,0.04,0.05,0.06,0.07,0.08,0.09,0.1,0.2,0.3,0.4,0.5,0.6,0.7,0.8,0.9,1],
                "tickSize": -4,
                "labelExpr": "datum.value == 0.01 ? '10⁻²' : datum.value == 0.1 ? '10⁻¹' : datum.value == 1 ? '10⁰' : ''",
                "labelOverlap": false, "labelFlush": false, "labelPadding": 8, "title": "Frequency (Hz)", "titlePadding": 11}},
            "y": {"field": "S", "type": "quantitative", "scale": {"type": "log", "domain": [7.1e-12, 100000], "nice": false},
              "axis": {"orient": "left", "values": [1e-11,1e-10,1e-9,1e-8,1e-7,1e-6,1e-5,1e-4,1e-3,1e-2,1e-1,1,10,100,1000,10000,100000],
                "tickSize": -4,
                "labelExpr": "datum.value == 1e5 ? '10⁵' : datum.value == 1 ? '10⁰' : datum.value == 1e-5 ? '10⁻⁵' : datum.value == 1e-10 ? '10⁻¹⁰' : ''",
                "labelOverlap": false, "labelFlush": false, "labelPadding": 8, "title": null}},
            "color": {"field": "s", "type": "nominal", "scale": {"domain": ["OrcaFlex-Only", "BHawC/OrcaFlex"], "range": ["#7f7f7f", "#00b2b2"]},
              "legend": {"orient": "top-right", "title": null, "offset": 10, "symbolType": "M-1,0H4.09", "symbolStrokeWidth": 2, "symbolSize": 200, "labelFontSize": 11.5, "labelFont": "Liberation Sans", "labelColor": "#000000", "strokeColor": "#262626", "fillColor": "white", "padding": 3, "rowPadding": 1, "labelOffset": 27}}
          }
        },
        {
          "data": {"name": "surge"},
          "transform": [{"filter": "datum.s === 'BHawC/OrcaFlex'"}],
          "mark": {"type": "line", "clip": true, "strokeWidth": 1.8},
          "encoding": {
            "x": {"field": "f", "type": "quantitative",
              "axis": {"orient": "top", "values": [0.005,0.006,0.007,0.008,0.009,0.01,0.02,0.03,0.04,0.05,0.06,0.07,0.08,0.09,0.1,0.2,0.3,0.4,0.5,0.6,0.7,0.8,0.9,1], "tickSize": -4, "labels": false, "title": null}},
            "y": {"field": "S", "type": "quantitative",
              "axis": {"orient": "right", "values": [1e-11,1e-10,1e-9,1e-8,1e-7,1e-6,1e-5,1e-4,1e-3,1e-2,1e-1,1,10,100,1000,10000,100000], "tickSize": -4, "labels": false, "title": null}},
            "color": {"field": "s", "type": "nominal"}
          }
        },
        {
          "data": {"name": "modes"},
          "mark": {"type": "rule", "strokeDash": [6, 4], "color": "#3f2d76", "opacity": 0.6, "strokeWidth": 1.3},
          "encoding": {
            "x": {"field": "f", "type": "quantitative", "axis": null},
            "y": {"field": "yEnd", "type": "quantitative", "axis": null},
            "y2": {"datum": 100000}
          }
        },
        {
          "data": {"name": "modes"},
          "transform": [{"filter": "datum.mode !== 'Yaw'"}],
          "mark": {"type": "text", "angle": 270, "align": "left", "baseline": "middle", "fontSize": 12, "font": "Liberation Sans", "color": "#3f2d76"},
          "encoding": {
            "x": {"field": "f", "type": "quantitative", "axis": null},
            "y": {"datum": 1.26e-11, "type": "quantitative", "axis": null},
            "text": {"field": "mode", "type": "nominal"}
          }
        },
        {
          "data": {"name": "modes"},
          "transform": [{"filter": "datum.mode === 'Yaw'"}],
          "mark": {"type": "text", "angle": 270, "align": "left", "baseline": "bottom", "dy": -2, "fontSize": 12, "font": "Liberation Sans", "color": "#3f2d76"},
          "encoding": {
            "x": {"field": "f", "type": "quantitative", "axis": null},
            "y": {"datum": 1.26e-11, "type": "quantitative", "axis": null},
            "text": {"field": "mode", "type": "nominal"}
          }
        },
        {
          "data": {"values": [{}]},
          "mark": {"type": "text", "text": "S", "angle": 270, "align": "left", "baseline": "alphabetic", "fontSize": 13, "font": "Liberation Sans", "color": "#262626"},
          "encoding": {"x": {"datum": 0.002724, "type": "quantitative", "axis": null}, "y": {"datum": 5.62e-6, "type": "quantitative", "axis": null}}
        },
        {
          "data": {"values": [{}]},
          "mark": {"type": "text", "text": "surge", "angle": 270, "align": "left", "baseline": "alphabetic", "fontSize": 9.5, "font": "Liberation Sans", "color": "#262626"},
          "encoding": {"x": {"datum": 0.002832, "type": "quantitative", "axis": null}, "y": {"datum": 1.88e-5, "type": "quantitative", "axis": null}}
        },
        {
          "data": {"values": [{}]},
          "mark": {"type": "text", "text": "(m²/Hz)", "angle": 270, "align": "left", "baseline": "alphabetic", "fontSize": 13, "font": "Liberation Sans", "color": "#262626"},
          "encoding": {"x": {"datum": 0.002724, "type": "quantitative", "axis": null}, "y": {"datum": 4.42e-4, "type": "quantitative", "axis": null}}
        }
      ]
    },
    {
      "width": 410,
      "height": 323,
      "title": {"text": "loglog PSD LC3₂ᵢdling towpitch", "frame": "group", "anchor": "middle", "offset": 4, "fontSize": 13.5, "fontWeight": "bold", "font": "Liberation Sans", "color": "#000000"},
      "resolve": {"axis": {"x": "independent", "y": "independent"}},
      "layer": [
        {
          "data": {"name": "pitch"},
          "transform": [{"filter": "datum.s === 'OrcaFlex-Only'"}],
          "mark": {"type": "line", "clip": true, "strokeWidth": 1.8},
          "encoding": {
            "x": {"field": "f", "type": "quantitative", "scale": {"type": "log", "domain": [0.005, 1], "nice": false},
              "axis": {"orient": "bottom", "values": [0.005,0.006,0.007,0.008,0.009,0.01,0.02,0.03,0.04,0.05,0.06,0.07,0.08,0.09,0.1,0.2,0.3,0.4,0.5,0.6,0.7,0.8,0.9,1],
                "tickSize": -4,
                "labelExpr": "datum.value == 0.01 ? '10⁻²' : datum.value == 0.1 ? '10⁻¹' : datum.value == 1 ? '10⁰' : ''",
                "labelOverlap": false, "labelFlush": false, "labelPadding": 8, "title": "Frequency (Hz)", "titlePadding": 11}},
            "y": {"field": "S", "type": "quantitative", "scale": {"type": "log", "domain": [7.1e-12, 100000], "nice": false},
              "axis": {"orient": "left", "values": [1e-11,1e-10,1e-9,1e-8,1e-7,1e-6,1e-5,1e-4,1e-3,1e-2,1e-1,1,10,100,1000,10000,100000],
                "tickSize": -4,
                "labelExpr": "datum.value == 1e5 ? '10⁵' : datum.value == 1 ? '10⁰' : datum.value == 1e-5 ? '10⁻⁵' : datum.value == 1e-10 ? '10⁻¹⁰' : ''",
                "labelOverlap": false, "labelFlush": false, "labelPadding": 8, "title": null}},
            "color": {"field": "s", "type": "nominal", "scale": {"domain": ["OrcaFlex-Only", "BHawC/OrcaFlex"], "range": ["#7f7f7f", "#00b2b2"]},
              "legend": {"orient": "top-right", "title": null, "offset": 10, "symbolType": "M-1,0H4.09", "symbolStrokeWidth": 2, "symbolSize": 200, "labelFontSize": 11.5, "labelFont": "Liberation Sans", "labelColor": "#000000", "strokeColor": "#262626", "fillColor": "white", "padding": 3, "rowPadding": 1, "labelOffset": 27}}
          }
        },
        {
          "data": {"name": "pitch"},
          "transform": [{"filter": "datum.s === 'BHawC/OrcaFlex'"}],
          "mark": {"type": "line", "clip": true, "strokeWidth": 1.8},
          "encoding": {
            "x": {"field": "f", "type": "quantitative",
              "axis": {"orient": "top", "values": [0.005,0.006,0.007,0.008,0.009,0.01,0.02,0.03,0.04,0.05,0.06,0.07,0.08,0.09,0.1,0.2,0.3,0.4,0.5,0.6,0.7,0.8,0.9,1], "tickSize": -4, "labels": false, "title": null}},
            "y": {"field": "S", "type": "quantitative",
              "axis": {"orient": "right", "values": [1e-11,1e-10,1e-9,1e-8,1e-7,1e-6,1e-5,1e-4,1e-3,1e-2,1e-1,1,10,100,1000,10000,100000], "tickSize": -4, "labels": false, "title": null}},
            "color": {"field": "s", "type": "nominal"}
          }
        },
        {
          "data": {"name": "modes"},
          "mark": {"type": "rule", "strokeDash": [6, 4], "color": "#3f2d76", "opacity": 0.6, "strokeWidth": 1.3},
          "encoding": {
            "x": {"field": "f", "type": "quantitative", "axis": null},
            "y": {"field": "yEnd", "type": "quantitative", "axis": null},
            "y2": {"datum": 100000}
          }
        },
        {
          "data": {"name": "modes"},
          "transform": [{"filter": "datum.mode !== 'Yaw'"}],
          "mark": {"type": "text", "angle": 270, "align": "left", "baseline": "middle", "fontSize": 12, "font": "Liberation Sans", "color": "#3f2d76"},
          "encoding": {
            "x": {"field": "f", "type": "quantitative", "axis": null},
            "y": {"datum": 1.26e-11, "type": "quantitative", "axis": null},
            "text": {"field": "mode", "type": "nominal"}
          }
        },
        {
          "data": {"name": "modes"},
          "transform": [{"filter": "datum.mode === 'Yaw'"}],
          "mark": {"type": "text", "angle": 270, "align": "left", "baseline": "bottom", "dy": -2, "fontSize": 12, "font": "Liberation Sans", "color": "#3f2d76"},
          "encoding": {
            "x": {"field": "f", "type": "quantitative", "axis": null},
            "y": {"datum": 1.26e-11, "type": "quantitative", "axis": null},
            "text": {"field": "mode", "type": "nominal"}
          }
        },
        {
          "data": {"values": [{}]},
          "mark": {"type": "text", "text": "S", "angle": 270, "align": "left", "baseline": "alphabetic", "fontSize": 13, "font": "Liberation Sans", "color": "#262626"},
          "encoding": {"x": {"datum": 0.002724, "type": "quantitative", "axis": null}, "y": {"datum": 3.55e-6, "type": "quantitative", "axis": null}}
        },
        {
          "data": {"values": [{}]},
          "mark": {"type": "text", "text": "pitch", "angle": 270, "align": "left", "baseline": "alphabetic", "fontSize": 9.5, "font": "Liberation Sans", "color": "#262626"},
          "encoding": {"x": {"datum": 0.002832, "type": "quantitative", "axis": null}, "y": {"datum": 1.19e-5, "type": "quantitative", "axis": null}}
        },
        {
          "data": {"values": [{}]},
          "mark": {"type": "text", "text": "(deg²/Hz)", "angle": 270, "align": "left", "baseline": "alphabetic", "fontSize": 13, "font": "Liberation Sans", "color": "#262626"},
          "encoding": {"x": {"datum": 0.002724, "type": "quantitative", "axis": null}, "y": {"datum": 2.0e-4, "type": "quantitative", "axis": null}}
        }
      ]
    }
  ],
  "config": {
    "font": "Liberation Sans",
    "view": {"stroke": "#262626", "strokeWidth": 0.8},
    "axis": {"grid": false, "domain": false, "tickColor": "#262626", "tickWidth": 0.7, "labelColor": "#262626", "labelFont": "Liberation Sans", "labelFontSize": 12, "titleFont": "Liberation Sans", "titleFontSize": 13, "titleFontWeight": "normal", "titleColor": "#262626"}
  }
}
